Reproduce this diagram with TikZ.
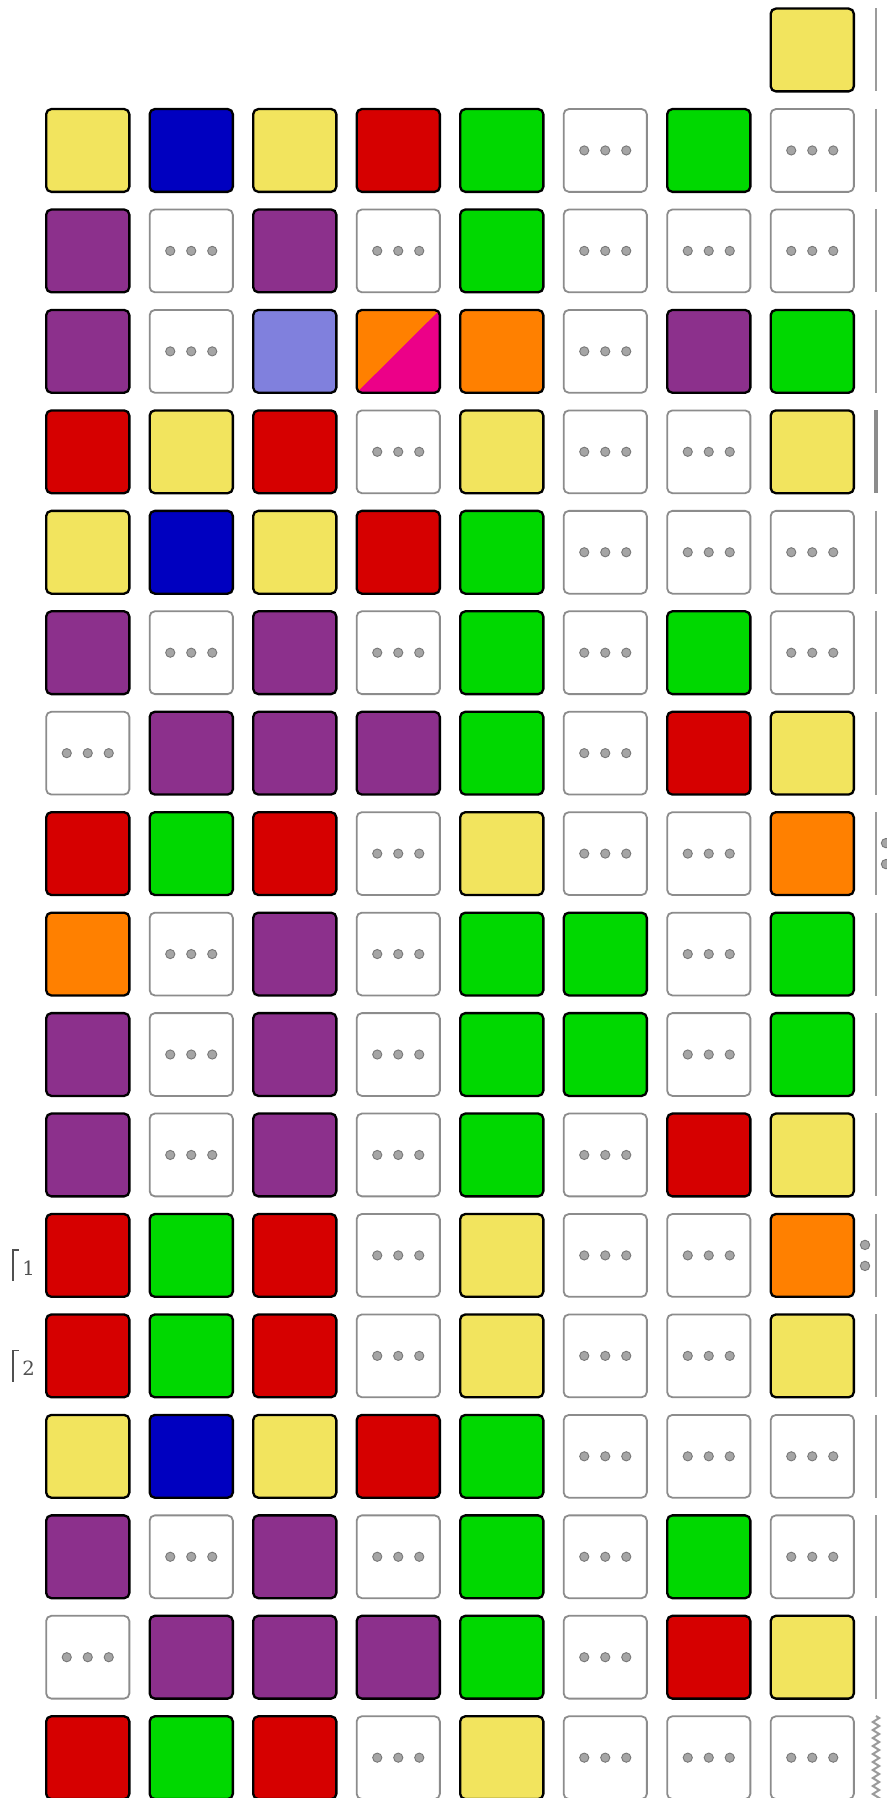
\documentclass[tikz,border=0pt]{standalone}
\usepackage{fontspec}
\newfontfamily\labfont{DejaVu Serif}
\usetikzlibrary{decorations.pathmorphing}
\definecolor{cY}{RGB}{242,228,94}
\definecolor{cB}{RGB}{0,0,192}
\definecolor{cR}{RGB}{214,0,0}
\definecolor{cG}{RGB}{0,216,0}
\definecolor{cP}{RGB}{140,48,140}
\definecolor{cO}{RGB}{255,128,0}
\definecolor{cL}{RGB}{128,128,221}
\definecolor{cM}{RGB}{236,0,136}
\definecolor{dotfill}{RGB}{165,165,165}
\definecolor{dotdraw}{RGB}{120,120,120}
\definecolor{emptyedge}{RGB}{140,140,140}
\definecolor{barcol}{RGB}{155,155,155}
\definecolor{thickbar}{RGB}{140,140,140}
\definecolor{labcol}{RGB}{80,80,80}
\tikzset{
  box/.style={rectangle, rounded corners=2.6pt, minimum width=41.6pt, minimum height=41.4pt,
    inner sep=0pt, outer sep=0pt, line width=1.15pt, draw=black},
  Y/.style={box, fill=cY},
  B/.style={box, fill=cB},
  R/.style={box, fill=cR},
  G/.style={box, fill=cG},
  P/.style={box, fill=cP},
  O/.style={box, fill=cO},
  L/.style={box, fill=cL},
  S/.style={box, fill=cO, path picture={\fill[cM] (path picture bounding box.north east) -- (path picture bounding box.south east) -- (path picture bounding box.south west) -- cycle;}},
  D/.style={box, draw=emptyedge, line width=0.9pt, fill=white,
    path picture={\foreach \k in {-1,0,1}{\filldraw[fill=dotfill, draw=dotdraw, line width=0.45pt] ([xshift=\k*10.5pt]path picture bounding box.center) circle[radius=2.3pt];}}},
  bar/.style={draw=barcol, line width=1pt},
  thick bar/.style={draw=thickbar, line width=2.3pt},
  sidedot/.style={circle, minimum size=4.7pt, inner sep=0pt, fill=dotfill, draw=dotdraw, line width=0.45pt},
  lab/.style={anchor=base, text=labcol, font=\labfont\fontsize{9.8}{12}\selectfont, inner sep=0pt},
  bracket/.style={draw=labcol, line width=0.8pt}
}
\begin{document}
\begin{tikzpicture}[x=0.5pt,y=-0.5pt]
\useasboundingbox (0,0) rectangle (887,1798);
\clip (0,0) rectangle (887,1798);
\fill[white] (0,0) rectangle (887,1798);
% row 0
\node[Y] (b0-7) at (87.75+103.5*7, 50) {};
% rows 1..17
\foreach \r/\row in {
  1/{Y,B,Y,R,G,D,G,D},
  2/{P,D,P,D,G,D,D,D},
  3/{P,D,L,S,O,D,P,G},
  4/{R,Y,R,D,Y,D,D,Y},
  5/{Y,B,Y,R,G,D,D,D},
  6/{P,D,P,D,G,D,G,D},
  7/{D,P,P,P,G,D,R,Y},
  8/{R,G,R,D,Y,D,D,O},
  9/{O,D,P,D,G,G,D,G},
  10/{P,D,P,D,G,G,D,G},
  11/{P,D,P,D,G,D,R,Y},
  12/{R,G,R,D,Y,D,D,O},
  13/{R,G,R,D,Y,D,D,Y},
  14/{Y,B,Y,R,G,D,D,D},
  15/{P,D,P,D,G,D,G,D},
  16/{D,P,P,P,G,D,R,Y},
  17/{R,G,R,D,Y,D,D,D}}{
  \foreach \s [count=\c from 0] in \row {
    \node[\s] (b\r-\c) at (87.75+103.5*\c, 50+100.45*\r) {};
  }
}
% right-hand bars
\foreach \r in {0,1,2,3,5,6,7,8,9,10,11,12,13,14,15,16}{
  \draw[bar] (876, 8.5+100.45*\r) -- (876, 91.5+100.45*\r);
}
\draw[thick bar] (876, 8.5+100.45*4) -- (876, 91.5+100.45*4);
\draw[draw=barcol, line width=1pt, decorate, decoration={zigzag, segment length=4pt, amplitude=1.6pt}]
  (876, 1716) -- (876, 1812);
% side dots
\node[sidedot] (d8a) at (886, 843.1) {};
\node[sidedot] (d8b) at (886, 864.1) {};
\node[sidedot] (d12a) at (865, 1244.9) {};
\node[sidedot] (d12b) at (865, 1265.9) {};
% labels
\draw[bracket] (18.5,1250) -- (12.7,1250) -- (12.7,1281);
\node[lab] (l1) at (28.5,1275) {1};
\draw[bracket] (18.5,1350.5) -- (12.7,1350.5) -- (12.7,1381.5);
\node[lab] (l2) at (28.5,1375.5) {2};
\end{tikzpicture}
\end{document}
